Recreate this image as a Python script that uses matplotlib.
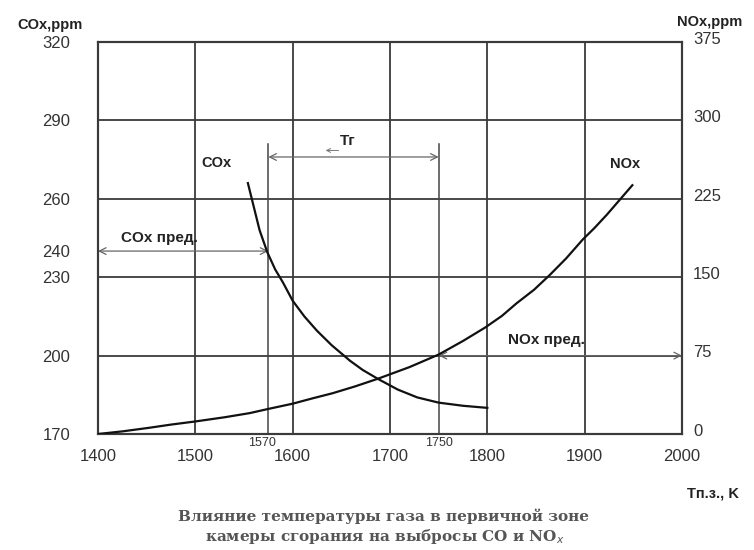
import numpy as np
import matplotlib
matplotlib.use('Agg')
import matplotlib.pyplot as plt
from matplotlib.transforms import ScaledTranslation

# --- data ---
x_ticks = [1400, 1500, 1600, 1700, 1800, 1900, 2000]
co_ticks = [170, 200, 230, 240, 260, 290, 320]
nox_ticks = [0, 75, 150, 225, 300, 375]
x_grid = [1500, 1600, 1700, 1800, 1900]
co_grid = [200, 230, 260, 290]

# COx, ppm (left axis) vs gas temperature in primary zone, K
co_T = [1554, 1560, 1566, 1574, 1582, 1590, 1600, 1612, 1625, 1640, 1659, 1672,
        1688, 1708, 1728, 1750, 1775, 1800]
co_ppm = [266, 257, 248, 239.5, 233, 228, 221, 215, 209.5, 204, 198, 194.5,
          191, 187, 184, 182, 180.8, 180]

# NOx, ppm (right axis)
nox_T = [1400, 1425, 1453, 1475, 1500, 1530, 1556, 1575, 1600, 1620, 1641, 1664,
         1688, 1720, 1750, 1775, 1798, 1815, 1830, 1848, 1864, 1881, 1898, 1910,
         1923, 1936, 1949]
nox_ppm = [0, 2.5, 6, 9, 12, 16, 20, 24, 29, 34, 39, 45.5,
           53, 64, 76, 89, 102, 113, 125, 138, 152, 168, 186, 197,
           210, 224, 238]

T_co_lim = 1575      # vertical line labelled 1570
T_co_lbl = '1570'
T_nox_lim = 1750
T_nox_lbl = '1750'
co_lim = 240          # COx пред.
nox_lim = 75          # NOx пред.
tr_level = 276        # level of the Tг arrow (left scale)
marker_top = 281

sans = ['Liberation Sans', 'DejaVu Sans']
plt.rcParams['font.family'] = sans

fig = plt.figure(figsize=(7.54, 5.5), dpi=100)
ax = fig.add_axes([98/754, 1-434/550, 584/754, 392/550])
ax.set_xlim(1400, 2000)
ax.set_ylim(170, 320)
ax2 = ax.twinx()
ax2.set_ylim(0, 375)

gc = '#3a3a3a'
for x in x_grid:
    ax.axvline(x, color=gc, lw=1.3, zorder=1)
for y in co_grid:
    ax.axhline(y, color=gc, lw=1.3, zorder=1)

for a in (ax, ax2):
    for s in a.spines.values():
        s.set_color(gc)
        s.set_linewidth(1.5)

ax.set_xticks(x_ticks)
ax.set_xticklabels([str(v) for v in x_ticks])
ax.set_yticks(co_ticks)
ax.set_yticklabels([str(v) for v in co_ticks])
ax2.set_yticks(nox_ticks)
ax2.set_yticklabels([str(v) for v in nox_ticks])
ax.tick_params(axis='x', length=0, pad=11, labelsize=12, labelcolor='#333')
ax.tick_params(axis='y', length=0, pad=20, labelsize=12, labelcolor='#333')
ax2.tick_params(axis='y', length=0, pad=8, labelsize=12, labelcolor='#333')
off = ScaledTranslation(0, 3/72, fig.dpi_scale_trans)
for lab in ax2.get_yticklabels():
    lab.set_transform(lab.get_transform() + off)

# curves
ax.plot(co_T, co_ppm, color='#111', lw=1.6, zorder=4)
ax2.plot(nox_T, nox_ppm, color='#111', lw=1.6, zorder=4)

# vertical marker lines
ax.plot([T_co_lim, T_co_lim], [170, marker_top], color='#444', lw=1.1, zorder=3)
ax.plot([T_nox_lim, T_nox_lim], [170, marker_top], color='#444', lw=1.1, zorder=3)
ax.text(T_co_lim - 6, 169, T_co_lbl, ha='center', va='top', fontsize=9, color='#333')
ax.text(T_nox_lim, 169, T_nox_lbl, ha='center', va='top', fontsize=9, color='#333')

arr = dict(arrowstyle='<->', color='#666', lw=0.9, shrinkA=0, shrinkB=0, mutation_scale=12)
ax.annotate('', xy=(T_nox_lim, tr_level), xytext=(T_co_lim, tr_level), arrowprops=arr)
ax.annotate('', xy=(T_co_lim, co_lim), xytext=(1400, co_lim), arrowprops=arr)
ax2.annotate('', xy=(2000, nox_lim), xytext=(T_nox_lim, nox_lim), arrowprops=arr)
ax.annotate('', xy=(1631, 278.5), xytext=(1650, 278.5),
            arrowprops=dict(arrowstyle='->', color='#777', lw=0.7, mutation_scale=7))

ax.text(1657, 282, 'Tг', ha='center', va='center', fontsize=11, fontweight='bold', color='#222')
ax.text(1424, 245, 'COx пред.', ha='left', va='center', fontsize=11, fontweight='bold', color='#222')
ax2.text(1821, 90, 'NOx пред.', ha='left', va='center', fontsize=11, fontweight='bold', color='#222')
ax.text(1522, 273.7, 'COx', ha='center', va='center', fontsize=10.5, fontweight='bold', color='#222')
ax2.text(1941, 258, 'NOx', ha='center', va='center', fontsize=10.5, fontweight='bold', color='#222')

# axis titles
fig.text(50/754, 1-25/550, 'COx,ppm', ha='center', va='center', fontsize=10.5, fontweight='bold', color='#222')
fig.text(710/754, 1-22/550, 'NOx,ppm', ha='center', va='center', fontsize=10.5, fontweight='bold', color='#222')
fig.text(713/754, 1-493/550, 'Tп.з., K', ha='center', va='center', fontsize=10.5, fontweight='bold', color='#222')

# caption
fig.text(383/754, 1-516/550, 'Влияние температуры газа в первичной зоне', ha='center', va='center',
         fontsize=11, fontweight='bold', family='DejaVu Serif', color='#555')
fig.text(385/754, 1-536/550, 'камеры сгорания на выбросы CO и NO$_x$', ha='center', va='center',
         fontsize=11, fontweight='bold', family='DejaVu Serif', color='#555')

fig.savefig('out.png', dpi=100)
